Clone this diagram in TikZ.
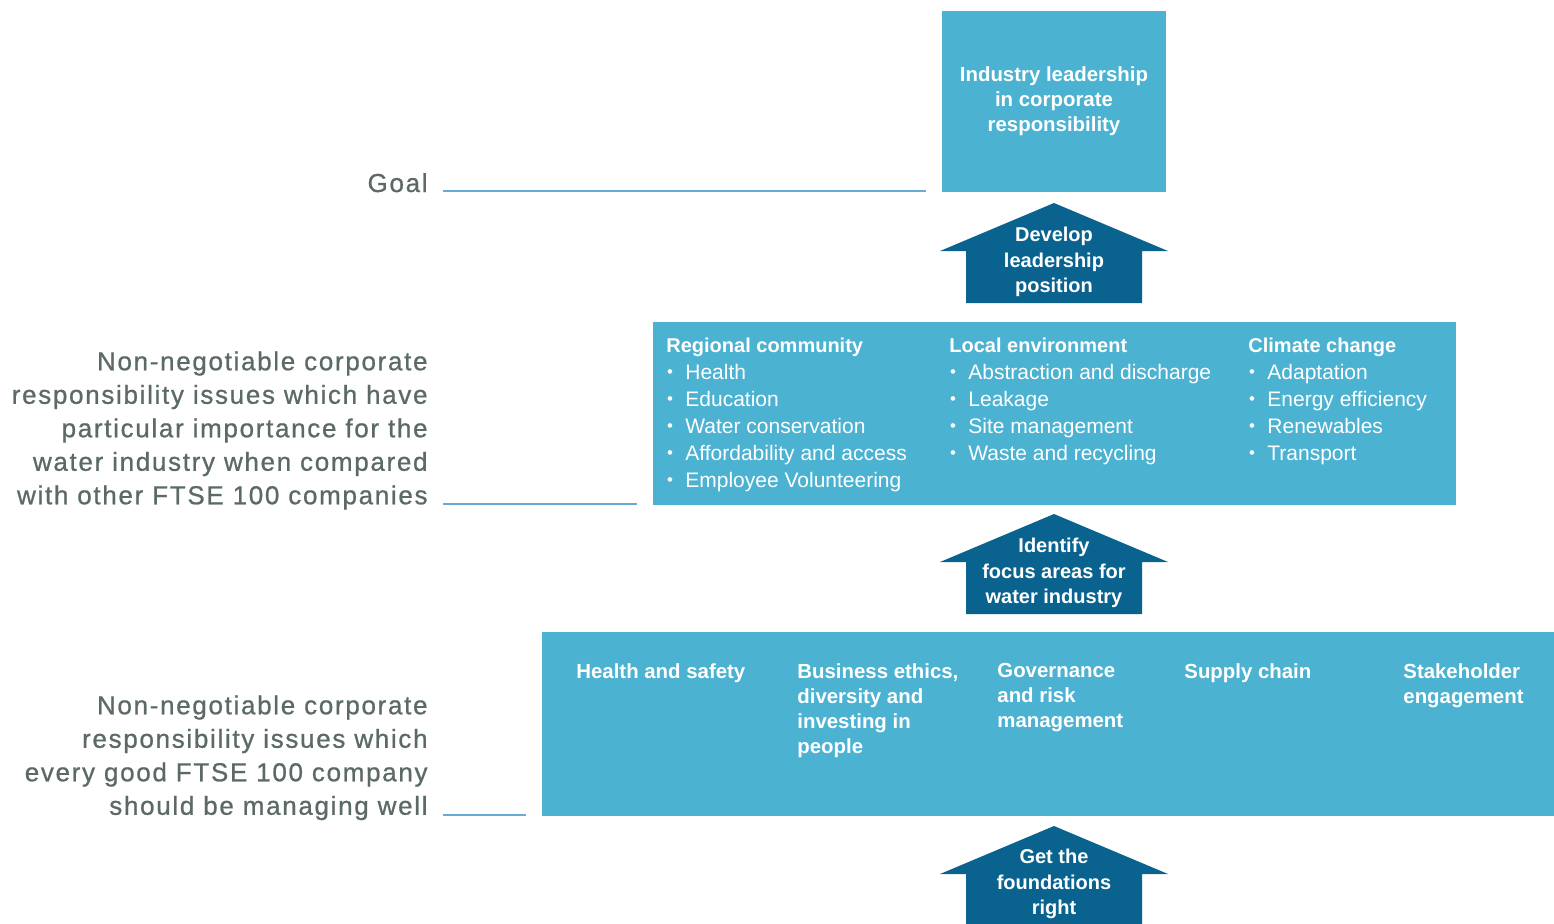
\documentclass[tikz,border=0pt]{standalone}
\usepackage{fontspec}
\setmainfont{Liberation Sans}
\newfontfamily\lblfont[LetterSpace=6.5,FakeBold=0.8]{Liberation Sans}
\usetikzlibrary{calc}
\definecolor{boxblue}{RGB}{76,178,209}
\definecolor{arrblue}{RGB}{10,99,143}
\definecolor{lblgray}{RGB}{92,106,101}
\definecolor{leadblue}{RGB}{104,170,212}
\newcommand\bul{\makebox[9.5pt][l]{\hspace{0.3pt}\raisebox{0.12em}{\scalebox{0.8}{\textbullet}}}}
\newcommand\hd[1]{{\fontsize{10}{13.5}\bfseries #1}}
\tikzset{
  uparrow/.pic={\fill[arrblue] (0,0) -- (114,48) -- (88,48) -- (88,100) -- (-88,100) -- (-88,48) -- (-114,48) -- cycle;}
}
\begin{document}
\begin{tikzpicture}[x=0.5pt,y=-0.5pt,
  lbl/.style={font=\lblfont\fontsize{13}{16.75}\selectfont, text=lblgray, align=right, inner sep=0pt},
  leader/.style={draw=leadblue, line width=0.8pt},
  bluebox/.style={fill=boxblue, inner sep=0pt, text=white},
  arrtxt/.style={text=white, inner sep=0pt, align=center, font=\fontsize{10}{12.75}\selectfont\bfseries},
  coltxt/.style={text=white, inner sep=0pt, align=left, anchor=north west, font=\fontsize{10.5}{13.5}\selectfont},
  bottxt/.style={text=white, inner sep=0pt, align=left, anchor=north west, font=\fontsize{10.2}{12.5}\selectfont\bfseries}
]
\useasboundingbox[fill=white] (0,0) rectangle (1554,923);

% boxes
\node[bluebox, minimum width=112pt, minimum height=90.5pt, align=center,
      font=\fontsize{10.2}{12.6}\selectfont\bfseries] (goal) at (1054,101.5)
  {Industry leadership\\in corporate\\responsibility};
\node[bluebox, minimum width=401.5pt, minimum height=91.5pt] (mid) at (1054.5,413.5) {};
\node[bluebox, minimum width=509pt, minimum height=92pt] (bot) at (1051,724) {};

% arrows
\pic at (1054,203) {uparrow};
\node[arrtxt, anchor=north] (dev) at (1054,227) {Develop\\leadership\\position};
\pic at (1054,514) {uparrow};
\node[arrtxt, anchor=north] (ident) at (1054,538) {Identify\\focus areas for\\water industry};
\pic at (1054,826) {uparrow};
\node[arrtxt, anchor=north] (found) at (1054,849) {Get the\\foundations\\right};

% middle box columns
\node[coltxt] (c1) at (666,338) {\hd{Regional community}\\ \bul Health\\ \bul Education\\ \bul Water conservation\\ \bul Affordability and access\\ \bul Employee Volunteering};
\node[coltxt] (c2) at (949,338) {\hd{Local environment}\\ \bul Abstraction and discharge\\ \bul Leakage\\ \bul Site management\\ \bul Waste and recycling};
\node[coltxt] (c3) at (1248,338) {\hd{Climate change}\\ \bul Adaptation\\ \bul Energy efficiency\\ \bul Renewables\\ \bul Transport};

% bottom box columns
\node[bottxt] (b1) at (576,663) {Health and safety};
\node[bottxt] (b2) at (797,663) {Business ethics,\\diversity and\\investing in\\people};
\node[bottxt] (b3) at (997,663) {Governance\\and risk\\management};
\node[bottxt] (b4) at (1184,663) {Supply chain};
\node[bottxt] (b5) at (1403,663) {Stakeholder\\engagement};

% labels
\node[lbl, anchor=base east] (goallbl) at (428,192) {Goal};
\node[lbl, anchor=north east] (midlbl) at (428,351) {Non-negotiable corporate\\responsibility issues which have\\particular importance for the\\water industry when compared\\with other FTSE 100 companies};
\node[lbl, anchor=north east] (botlbl) at (428,695) {Non-negotiable corporate\\responsibility issues which\\every good FTSE 100 company\\should be managing well};

% leader lines
\coordinate (g0) at (443,191);
\coordinate (m0) at (443,504);
\coordinate (f0) at (443,815);
\draw[leader] (g0) -- ([xshift=-8pt]goal.west |- g0);
\draw[leader] (m0) -- ([xshift=-8pt]mid.west |- m0);
\draw[leader] (f0) -- ([xshift=-8pt]bot.west |- f0);
\end{tikzpicture}
\end{document}
